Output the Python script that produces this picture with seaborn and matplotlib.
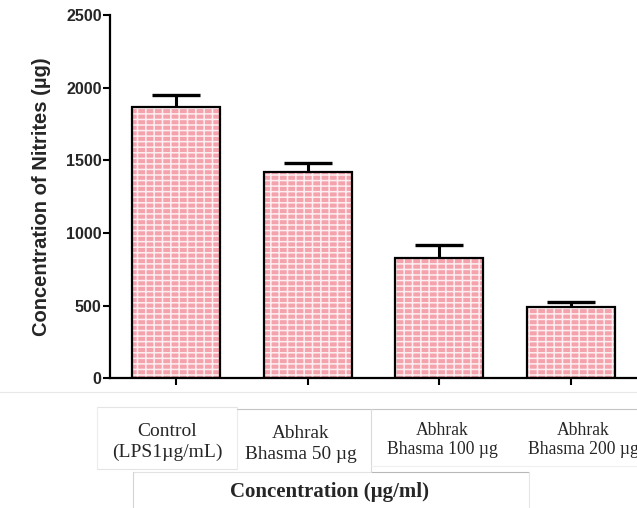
import numpy as np
import pandas as pd
import matplotlib
matplotlib.use("Agg")
import matplotlib.pyplot as plt
from matplotlib.lines import Line2D
import seaborn as sns

# ---- data ----
categories = ["Control (LPS1µg/mL)", "Abhrak Bhasma 50 µg", "Abhrak Bhasma 100 µg", "Abhrak Bhasma 200 µg"]
cat_labels = ["Control\n(LPS1µg/mL)", "Abhrak\nBhasma 50 µg", "Abhrak\nBhasma 100 µg", "Abhrak\nBhasma 200 µg"]
values = [1870, 1422, 828, 493]
errors = [81, 62, 87, 32]
yticks = [0, 500, 1000, 1500, 2000, 2500]
ylabel = "Concentration of Nitrites (µg)"
xlabel = "Concentration (µg/ml)"

sns.set_theme(style="ticks")
plt.rcParams["font.family"] = ["Liberation Sans", "DejaVu Sans"]
plt.rcParams["hatch.linewidth"] = 1.1

W, H = 637, 508
fig = plt.figure(figsize=(W / 100, H / 100), dpi=100)
ax = fig.add_axes([110 / W, 1 - 378.3 / H, (W - 110) / W, (378.3 - 15) / H])

df = pd.DataFrame({"group": categories, "value": values})
sns.barplot(data=df, x="group", y="value", ax=ax, color="#f4a3ad", saturation=1,
            width=0.667, errorbar=None, edgecolor="white", linewidth=0)
for p in ax.patches:
    p.set_hatch("---||")
    p.set_edgecolor("#fdeff1")
    p.set_linewidth(0)

sns.barplot(data=df, x="group", y="value", ax=ax, color="black", fill=False,
            width=0.667, errorbar=None, linewidth=1.6)

x = np.arange(len(values))
cont = ax.errorbar(x, values, yerr=[np.zeros(len(values)), errors], fmt="none",
                   ecolor="black", elinewidth=2.2, capsize=17, capthick=2.4, zorder=5)
for cl in cont[1]:
    if np.allclose(cl.get_ydata(), values):
        cl.set_visible(False)

ax.set_ylim(0, 2500)
ax.set_xlim(-0.5, 3.5)
ax.set_yticks(yticks)
ax.set_yticklabels([str(t) for t in yticks], fontweight="bold", fontsize=11.5)
ax.set_xticks(x)
ax.set_xticklabels([""] * len(x))
ax.set_xlabel("")
ax.set_ylabel("")
for s in ["top", "right"]:
    ax.spines[s].set_visible(False)
for s in ["left", "bottom"]:
    ax.spines[s].set_linewidth(1.6)
    ax.spines[s].set_color("black")
ax.tick_params(axis="both", direction="out", length=5, width=1.5, color="black", pad=1)

fig.text(42 / W, 1 - 197 / H, ylabel, rotation=90, ha="center", va="center",
         fontweight="bold", fontsize=14.5)

# separator line and faint boxes below the chart
fig.add_artist(Line2D([0, 1], [1 - 392 / H] * 2, color="#e8e8e8", lw=0.8))
def hline(x0, x1, y, c="#d9d9d9"):
    fig.add_artist(Line2D([x0 / W, x1 / W], [1 - y / H] * 2, color=c, lw=0.8))
def vline(xx, y0, y1, c="#e3e3e3"):
    fig.add_artist(Line2D([xx / W] * 2, [1 - y0 / H, 1 - y1 / H], color=c, lw=0.8))
hline(97, 237, 407, "#e4e4e4"); hline(97, 237, 469, "#e4e4e4")
vline(97, 407, 469, "#ececec"); vline(237, 407, 469, "#ececec")
hline(237, 637, 409, "#c4c4c4")
vline(371, 409, 472, "#dadada")
hline(371, 637, 466, "#efefef")
hline(371, 529, 472, "#b8b8b8")
hline(133, 371, 472, "#e2e2e2"); vline(133, 472, 508, "#d4d4d4")
vline(529, 472, 508, "#e6e6e6")

label_pos = [(167, 442), (301, 444), (442, 440), (583, 440)]
label_sizes = [14.0, 13.9, 12.7, 12.7]
label_spacing = [1.25, 1.25, 1.1, 1.1]
for lab, (px, py), fs, ls in zip(cat_labels, label_pos, label_sizes, label_spacing):
    fig.text(px / W, 1 - py / H, lab, ha="center", va="center", fontsize=fs,
             family=["Liberation Serif", "DejaVu Serif"], linespacing=ls)

fig.text(330 / W, 1 - 492 / H, xlabel, ha="center", va="center", fontsize=15,
         fontweight="bold", family=["Liberation Serif", "DejaVu Serif"])

fig.savefig("out.png", dpi=100)
